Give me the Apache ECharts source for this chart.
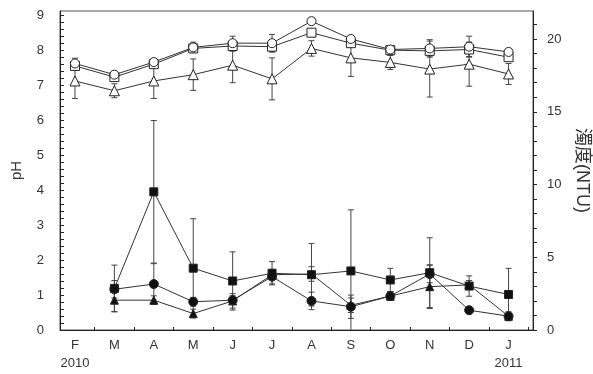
<!DOCTYPE html>
<html>
<head>
<meta charset="utf-8">
<script src="https://cdn.jsdelivr.net/npm/echarts@6/dist/echarts.min.js"></script>
<style>
  html, body { margin: 0; padding: 0; background: #fff; }
  #chart { width: 593px; height: 374px; }
</style>
</head>
<body>
<div id="chart"></div>
<script>
// Months from Feb 2010 to Jan 2011
const months = ['F', 'M', 'A', 'M', 'J', 'J', 'A', 'S', 'O', 'N', 'D', 'J'];
const years  = ['2010', '', '', '', '', '', '', '', '', '', '', '2011'];

// pH (left axis), open markers
const phCircle      = [7.62, 7.30, 7.66, 8.08, 8.20, 8.20, 8.83, 8.32, 8.02, 8.05, 8.10, 7.95];
const phCircleErr   = [0.15, 0.10, 0.10, 0.15, 0.20, 0.25, 0.10, 0.10, 0.10, 0.25, 0.30, 0.10];
const phSquare      = [7.55, 7.23, 7.60, 8.05, 8.12, 8.10, 8.50, 8.20, 8.00, 7.98, 8.02, 7.80];
const phSquareErr   = [0.10, 0.10, 0.10, 0.10, 0.15, 0.15, 0.10, 0.10, 0.10, 0.15, 0.20, 0.10];
const phTriangle    = [7.12, 6.84, 7.12, 7.30, 7.57, 7.18, 8.05, 7.78, 7.65, 7.46, 7.60, 7.32];
const phTriangleErr = [0.50, 0.20, 0.50, 0.45, 0.50, 0.60, 0.22, 0.53, 0.20, 0.80, 0.63, 0.30];

// Turbidity in NTU (right axis), filled markers
const ntuSquare      = [null, 2.86, 9.50, 4.25, 3.37, 3.90, 3.80, 4.06, 3.44, 3.94, 3.02, 2.44];
const ntuSquareErr   = [null, 1.60, 4.90, 3.40, 2.00, 0.80, 2.15, 4.20, 0.80, 2.40, 0.70, 1.80];
const ntuCircle      = [null, 2.80, 3.16, 1.94, 2.05, 3.67, 2.00, 1.60, 2.33, 3.85, 1.36, 0.95];
const ntuCircleErr   = [null, 0.60, 1.40, 0.30, 0.30, 0.50, 0.60, 0.80, 0.30, 0.60, 0.10, 0.20];
const ntuTriangle    = [null, 2.05, 2.05, 1.13, 2.00, 3.80, 3.85, 1.70, 2.33, 2.98, 3.10, 0.95];
const ntuTriangleErr = [null, 0.80, 0.30, 0.30, 0.50, 0.30, 0.50, 0.50, 0.30, 1.50, 0.30, 0.30];

// Axis tick labels
const phTicks  = [0, 1, 2, 3, 4, 5, 6, 7, 8, 9];
const ntuTicks = [0, 5, 10, 15, 20];

const FONT = "'Liberation Sans', Arial, 'Noto Sans CJK JP', sans-serif";
const INK = '#222';

// Month n of the series sits at x = n (Feb 2010 = 1)
const monthPos = months.map((_, i) => i + 1);
const monthBounds = monthPos.map(p => p + 0.5);
const phMinor = [];
for (let i = 0; i <= 45; i++) phMinor.push(+(i * 0.2).toFixed(1));
const ntuMinor = [];
for (let i = 0; i <= 21; i++) ntuMinor.push(i);

function captionAt(list) {
  return function (v) {
    const i = Math.round(v) - 1;
    if (Math.abs(v - (i + 1)) > 0.01 || i < 0 || i >= list.length) return '';
    return list[i];
  };
}

function points(values) {
  return values.map((v, i) => [monthPos[i], v]);
}
function bars(values, errs) {
  const out = [];
  values.forEach((v, i) => {
    if (v != null) out.push([monthPos[i], v - errs[i], v + errs[i]]);
  });
  return out;
}

function errorSeries(values, errs, axis) {
  return {
    type: 'custom',
    yAxisIndex: axis,
    clip: true,
    z: 1,
    silent: true,
    encode: { x: 0, y: [1, 2] },
    data: bars(values, errs),
    renderItem: function (params, api) {
      const x = api.value(0);
      const top = api.coord([x, api.value(2)]);
      const bot = api.coord([x, api.value(1)]);
      const w = 3;
      const st = { stroke: '#444', lineWidth: 1 };
      return {
        type: 'group',
        children: [
          { type: 'line', shape: { x1: top[0], y1: top[1], x2: bot[0], y2: bot[1] }, style: st },
          { type: 'line', shape: { x1: top[0] - w, y1: top[1], x2: top[0] + w, y2: top[1] }, style: st },
          { type: 'line', shape: { x1: bot[0] - w, y1: bot[1], x2: bot[0] + w, y2: bot[1] }, style: st }
        ]
      };
    }
  };
}

function lineSeries(values, symbol, filled, axis, size) {
  return {
    type: 'line',
    yAxisIndex: axis,
    data: points(values),
    symbol: symbol,
    symbolSize: size,
    showAllSymbol: true,
    connectNulls: false,
    z: 3,
    lineStyle: { color: '#333', width: 1 },
    itemStyle: {
      color: filled ? '#111' : '#fff',
      borderColor: '#222',
      borderWidth: 1,
      opacity: 1
    }
  };
}

const chart = echarts.init(document.getElementById('chart'), null, { renderer: 'canvas' });

const xCommon = { type: 'value', min: 0.62, max: 12.62, splitLine: { show: false } };

function captionAxis(list, margin) {
  return Object.assign({}, xCommon, {
    position: 'bottom',
    offset: 0,
    axisLine: { show: false, onZero: false },
    axisTick: { show: false },
    axisLabel: {
      customValues: monthPos.filter((p, i) => list[i] !== ''),
      showMinLabel: true,
      showMaxLabel: true,
      hideOverlap: false,
      margin: margin,
      align: 'center',
      color: '#333',
      fontFamily: FONT,
      fontSize: 13,
      formatter: captionAt(list)
    }
  });
}

chart.setOption({
  animation: false,
  backgroundColor: '#fff',
  grid: {
    left: 60, right: 60, top: 11, bottom: 44,
    containLabel: false,
    outerBoundsMode: 'none',
    show: true, borderColor: '#555', borderWidth: 1, backgroundColor: 'transparent'
  },
  xAxis: [
    // Axis line and month-boundary ticks
    Object.assign({}, xCommon, {
      axisLine: { onZero: false, lineStyle: { color: INK, width: 1 } },
      axisTick: { inside: true, length: 3, customValues: monthBounds, lineStyle: { color: INK } },
      axisLabel: { show: false }
    }),
    // Month initials
    captionAxis(months, 9),
    // Year captions under the first and last month
    captionAxis(years, 27)
  ],
  yAxis: [
    {
      type: 'value',
      min: 0,
      max: 9.12,
      position: 'left',
      name: 'pH',
      nameLocation: 'middle',
      nameGap: 36,
      nameTextStyle: { color: '#333', fontFamily: FONT, fontSize: 15 },
      splitLine: { show: false },
      axisLine: { show: true, onZero: false, lineStyle: { color: INK } },
      axisTick: { inside: true, length: 4, customValues: phMinor, lineStyle: { color: INK } },
      axisLabel: { customValues: phTicks, margin: 16, color: '#333', fontFamily: FONT, fontSize: 13 }
    },
    {
      type: 'value',
      min: 0,
      max: 21.93,
      position: 'right',
      name: '濁度(NTU)',
      nameLocation: 'middle',
      nameRotate: -90,
      nameGap: 40,
      nameTextStyle: { color: '#333', fontFamily: FONT, fontSize: 18 },
      splitLine: { show: false },
      axisLine: { show: true, onZero: false, lineStyle: { color: INK } },
      axisTick: { inside: false, length: 4, customValues: ntuMinor, lineStyle: { color: INK } },
      axisLabel: { customValues: ntuTicks, margin: 14, color: '#333', fontFamily: FONT, fontSize: 13 }
    }
  ],
  series: [
    errorSeries(phCircle, phCircleErr, 0),
    errorSeries(phSquare, phSquareErr, 0),
    errorSeries(phTriangle, phTriangleErr, 0),
    errorSeries(ntuSquare, ntuSquareErr, 1),
    errorSeries(ntuCircle, ntuCircleErr, 1),
    errorSeries(ntuTriangle, ntuTriangleErr, 1),
    lineSeries(phTriangle, 'triangle', false, 0, 10),
    lineSeries(phSquare, 'rect', false, 0, 9),
    lineSeries(phCircle, 'circle', false, 0, 9),
    lineSeries(ntuTriangle, 'triangle', true, 1, 8),
    lineSeries(ntuCircle, 'circle', true, 1, 9),
    lineSeries(ntuSquare, 'rect', true, 1, 8)
  ]
});
</script>
</body>
</html>
